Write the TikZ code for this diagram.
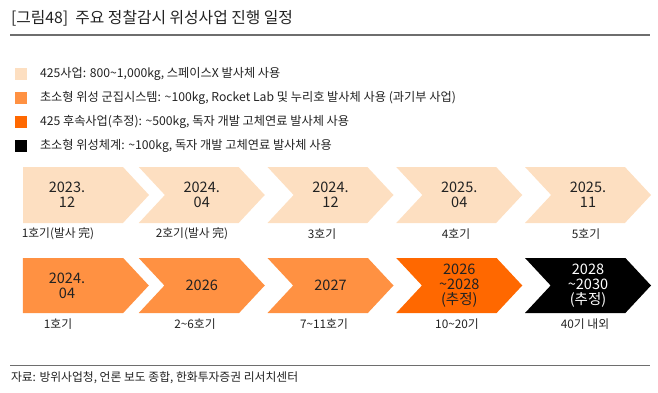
\documentclass[tikz,border=0pt]{standalone}
\usepackage{fontspec}
\setmainfont{Noto Sans CJK KR}
\usetikzlibrary{shapes.symbols}
\definecolor{peach}{RGB}{253,223,193}
\definecolor{midorange}{RGB}{255,145,66}
\definecolor{deeporange}{RGB}{255,104,0}
\definecolor{txt}{RGB}{34,34,34}
\definecolor{rulegray}{RGB}{110,110,110}
\newcommand{\backshift}{\hspace*{-12pt}} % pulls a line of the first chevron to the left
\tikzset{
x=1pt, y=-1pt, % one unit is one pixel of the reference, y runs downward
every node/.style={text=txt, inner sep=0pt, outer sep=0pt},
arrowbox/.style={signal, signal to=east, signal from=west, signal pointer angle=94,
  minimum width=126pt, minimum height=56pt, align=center,
  font=\fontsize{14.5}{15}\selectfont}, % chevron of the timeline
firstbox/.style={arrowbox, signal from=nowhere}, % first chevron has a flat back
swatch/.style={minimum size=12pt}, % legend colour square
legendtext/.style={anchor=west, font=\fontsize{12.2}{14}\selectfont},
steplabel/.style={font=\fontsize{11.8}{14}\selectfont}, % text under a chevron
}

\begin{document}
\begin{tikzpicture}
\useasboundingbox (0,0) rectangle (658,393);

% title and rules
\node[anchor=west, font=\fontsize{15.8}{18}\selectfont] (title) at (11,18) {[그림48]\ \ 주요 정찰감시 위성사업 진행 일정};
\coordinate (topl) at (10,35);
\coordinate (topr) at (650,35);
\draw[rulegray, line width=1.6pt] (topl) -- (topr);

% legend
\node[swatch, fill=peach] (sw1) at (21,74) {};
\node[legendtext] (lg1) at (40,74) {425사업: 800\textasciitilde1,000kg, 스페이스X 발사체 사용};
\node[swatch, fill=midorange] (sw2) at (21,98) {};
\node[legendtext] (lg2) at (40,98) {초소형 위성 군집시스템: \textasciitilde100kg, Rocket Lab 및 누리호 발사체 사용 (과기부 사업)};
\node[swatch, fill=deeporange] (sw3) at (21,122) {};
\node[legendtext] (lg3) at (40,122) {425 후속사업(추정): \textasciitilde500kg, 독자 개발 고체연료 발사체 사용};
\node[swatch, fill=black] (sw4) at (21,146) {};
\node[legendtext] (lg4) at (40,146) {초소형 위성체계: \textasciitilde100kg, 독자 개발 고체연료 발사체 사용};

% row 1: 425 project
\node[firstbox, fill=peach] (a1) at (73,195) {\backshift 2023.\\\backshift 12};
\node[arrowbox, fill=peach] (a2) at (201.75,195) {2024.\\04};
\node[arrowbox, fill=peach] (a3) at (330.5,195) {2024.\\12};
\node[arrowbox, fill=peach] (a4) at (459.25,195) {2025.\\04};
\node[arrowbox, fill=peach] (a5) at (588,195) {2025.\\11};
\node[steplabel] (la1) at (58,234) {1호기(발사 完)};
\node[steplabel] (la2) at (192,234) {2호기(발사 完)};
\node[steplabel] (la3) at (322,234) {3호기};
\node[steplabel] (la4) at (456,234) {4호기};
\node[steplabel] (la5) at (586,234) {5호기};

% row 2: micro satellites and follow-up
\node[firstbox, fill=midorange, minimum height=55pt] (b1) at (73,285.5) {\backshift 2024.\\\backshift 04};
\node[arrowbox, fill=midorange, minimum height=55pt] (b2) at (201.75,285.5) {2026};
\node[arrowbox, fill=midorange, minimum height=55pt] (b3) at (330.5,285.5) {2027};
\node[arrowbox, fill=deeporange, minimum height=55pt] (b4) at (459.25,285.5) {2026\\\textasciitilde2028\\(추정)};
\node[arrowbox, fill=black, text=white, minimum height=55pt] (b5) at (588,285.5) {2028\\\textasciitilde2030\\(추정)};
\node[steplabel] (lb1) at (58,324) {1호기};
\node[steplabel] (lb2) at (195,324) {2\textasciitilde6호기};
\node[steplabel] (lb3) at (324,324) {7\textasciitilde11호기};
\node[steplabel] (lb4) at (457,324) {10\textasciitilde20기};
\node[steplabel] (lb5) at (585,324) {40기 내외};

% source
\coordinate (botl) at (10,365);
\coordinate (botr) at (650,365);
\draw[rulegray, line width=0.8pt] (botl) -- (botr);
\node[anchor=west, font=\fontsize{11.8}{14}\selectfont] (src) at (11,378) {자료: 방위사업청, 언론 보도 종합, 한화투자증권 리서치센터};
\end{tikzpicture}
\end{document}
